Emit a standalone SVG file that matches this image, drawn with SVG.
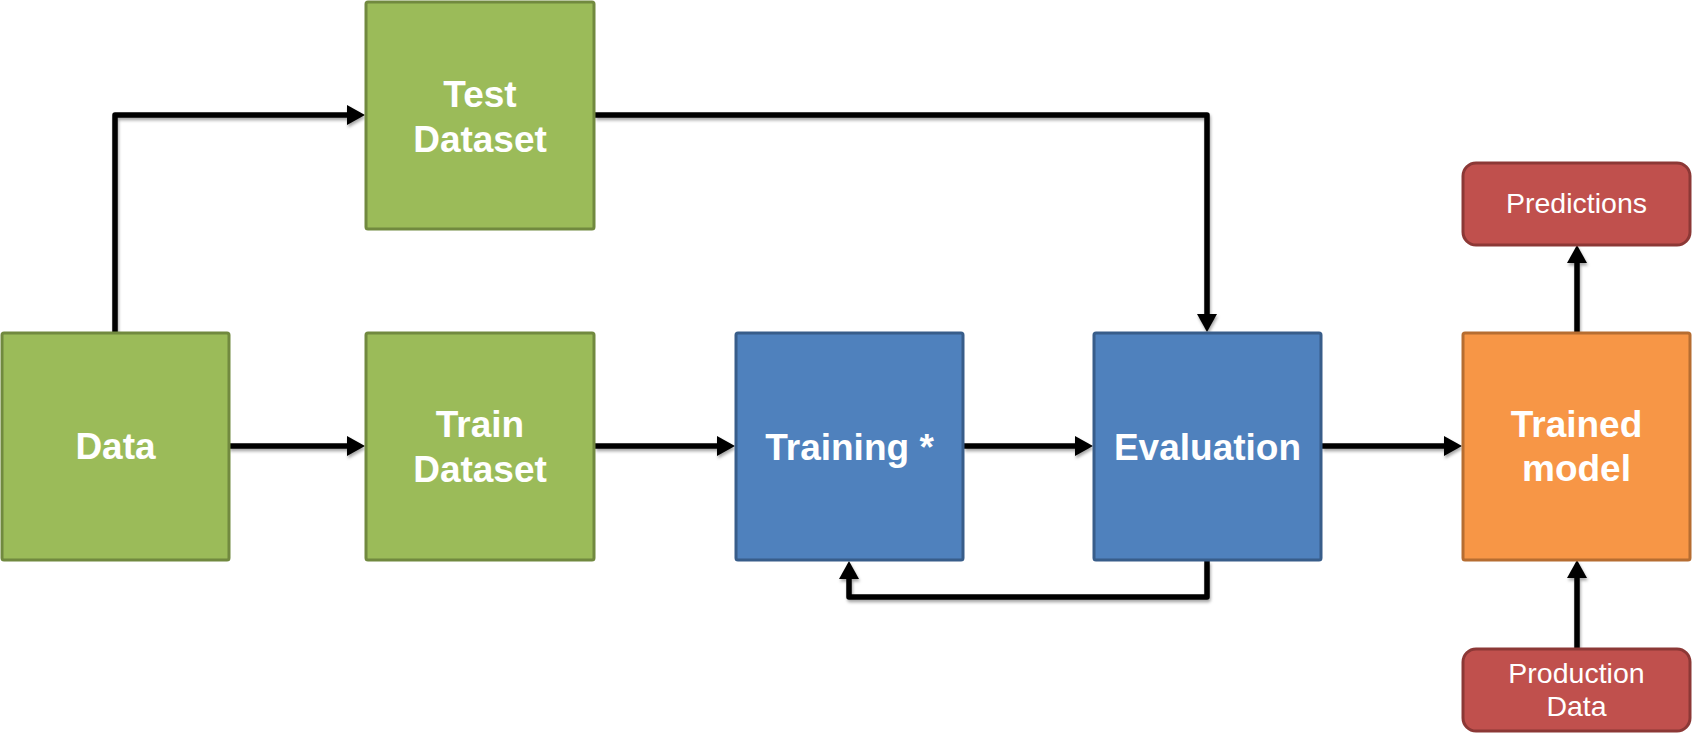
<svg xmlns="http://www.w3.org/2000/svg" width="1692" height="742" viewBox="0 0 1692 742">
<style>
.g{fill:#9BBB59;stroke:#71893F;stroke-width:3}
.b{fill:#4F81BD;stroke:#385D8A;stroke-width:3}
.o{fill:#F79646;stroke:#B66D31;stroke-width:3}
.r{fill:#C0504D;stroke:#8C3836;stroke-width:3}
.big{font-family:"Liberation Sans",Arial,sans-serif;font-weight:bold;font-size:37px;fill:#fff;text-anchor:middle}
.sm{font-family:"Liberation Sans",Arial,sans-serif;font-size:28.5px;fill:#fff;text-anchor:middle}
.c{fill:none;stroke:#000;stroke-width:5.5;stroke-linejoin:round}
</style>
<defs>
<filter id="sh" x="-10%" y="-10%" width="120%" height="120%">
<feDropShadow dx="1" dy="2.5" stdDeviation="1.5" flood-color="#000" flood-opacity="0.35"/>
</filter>
<marker id="ah" markerUnits="userSpaceOnUse" markerWidth="18" markerHeight="20" refX="0" refY="10" orient="auto" viewBox="0 0 18 20">
<path d="M0,0 L18,10 L0,20 Z" fill="#000"/>
</marker>
</defs>
<rect width="1692" height="742" fill="#fff"/>
<g id="connectors" filter="url(#sh)">
<path class="c" d="M115,332 V115 H347" marker-end="url(#ah)"/>
<path class="c" d="M229,446 H347" marker-end="url(#ah)"/>
<path class="c" d="M595,446 H717" marker-end="url(#ah)"/>
<path class="c" d="M964,446 H1075" marker-end="url(#ah)"/>
<path class="c" d="M1322,446 H1444" marker-end="url(#ah)"/>
<path class="c" d="M595,115 H1207 V314" marker-end="url(#ah)"/>
<path class="c" d="M1207,561 V597 H849 V579" marker-end="url(#ah)"/>
<path class="c" d="M1577,332 V263" marker-end="url(#ah)"/>
<path class="c" d="M1577,648 V578" marker-end="url(#ah)"/>
</g>
<g id="data">
<rect class="g" x="2" y="333" width="227" height="227" rx="2"/>
<text class="big" x="115.5" y="459">Data</text>
</g>
<g id="test-dataset">
<rect class="g" x="366" y="2" width="228" height="227" rx="2"/>
<text class="big" x="480" y="107">Test</text>
<text class="big" x="480" y="152">Dataset</text>
</g>
<g id="train-dataset">
<rect class="g" x="366" y="333" width="228" height="227" rx="2"/>
<text class="big" x="480" y="437">Train</text>
<text class="big" x="480" y="482">Dataset</text>
</g>
<g id="training">
<rect class="b" x="736" y="333" width="227" height="227" rx="2"/>
<text class="big" x="849.5" y="460">Training *</text>
</g>
<g id="evaluation">
<rect class="b" x="1094" y="333" width="227" height="227" rx="2"/>
<text class="big" x="1207.5" y="460">Evaluation</text>
</g>
<g id="trained-model">
<rect class="o" x="1463" y="333" width="227" height="227" rx="2"/>
<text class="big" x="1576.5" y="437">Trained</text>
<text class="big" x="1576.5" y="481">model</text>
</g>
<g id="predictions">
<rect class="r" x="1463" y="163" width="227" height="82" rx="13"/>
<text class="sm" x="1576.5" y="213">Predictions</text>
</g>
<g id="production-data">
<rect class="r" x="1463" y="649" width="227" height="82" rx="13"/>
<text class="sm" x="1576.5" y="683">Production</text>
<text class="sm" x="1576.5" y="716">Data</text>
</g>
</svg>
